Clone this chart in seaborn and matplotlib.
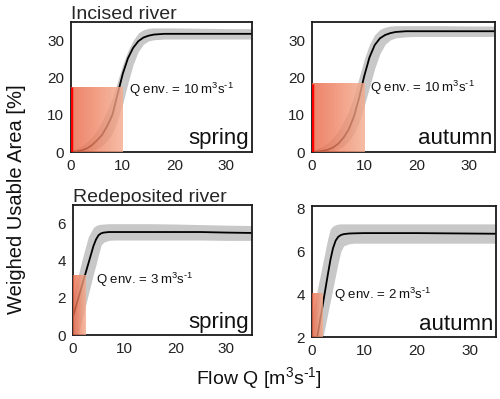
import numpy as np
import matplotlib
matplotlib.use("Agg")
import matplotlib.pyplot as plt
from matplotlib.colors import LinearSegmentedColormap
import seaborn as sns

sns.set_theme(style="white")
plt.rcParams['font.family'] = ['Liberation Sans', 'DejaVu Sans']
plt.rcParams['mathtext.default'] = 'regular'

# incised river, spring
inc_spr_x = [0, 1, 2, 3, 4, 5, 6, 7, 8, 9, 10, 11, 12, 13, 14, 15, 16, 18, 20, 25, 30, 35]
inc_spr_y = [0, 0.1, 0.4, 0.9, 1.8, 3.1, 4.6, 7.0, 10.0, 15.5, 21.0, 25.2, 28.0, 29.8, 30.8, 31.3, 31.6, 31.8, 31.8, 31.8, 31.8, 31.8]
inc_spr_hi = [0.5, 0.9, 1.6, 2.6, 4.0, 5.8, 8.2, 11.2, 14.5, 19.0, 23.5, 27.2, 30.0, 32.0, 32.9, 33.3, 33.4, 33.4, 33.4, 33.3, 33.2, 33.2]
inc_spr_lo = [0, 0, 0, 0.1, 0.4, 0.9, 1.7, 3.0, 5.0, 8.5, 13.0, 18.5, 23.5, 27.0, 29.0, 29.9, 30.2, 30.4, 30.4, 30.4, 30.4, 30.4]

# incised river, autumn
inc_aut_x = inc_spr_x
inc_aut_y = [0, 0.1, 0.3, 0.6, 1.2, 2.2, 3.8, 6.0, 9.5, 14.5, 20.5, 25.5, 28.8, 30.6, 31.5, 32.0, 32.3, 32.5, 32.5, 32.5, 32.5, 32.5]
inc_aut_hi = [0.5, 0.9, 1.5, 2.5, 3.8, 5.6, 8.0, 11.0, 15.0, 20.0, 25.0, 29.0, 31.6, 33.0, 33.6, 33.9, 34.0, 34.0, 34.0, 34.0, 33.9, 33.9]
inc_aut_lo = [0, 0, 0, 0.1, 0.3, 0.8, 1.6, 2.9, 4.9, 8.0, 12.5, 17.5, 22.5, 26.5, 29.0, 30.2, 30.7, 31.0, 31.1, 31.1, 31.1, 31.1]

# redeposited river, spring
red_spr_x = [0, 1, 2, 3, 4, 4.5, 5, 5.5, 6, 7, 8, 10, 15, 20, 25, 30, 35]
red_spr_y = [1.0, 1.95, 2.9, 3.85, 4.8, 5.15, 5.38, 5.48, 5.52, 5.55, 5.55, 5.55, 5.55, 5.55, 5.55, 5.52, 5.5]
red_spr_hi = [2.1, 3.2, 4.3, 5.3, 5.8, 5.9, 5.95, 5.97, 5.98, 6.0, 6.0, 6.0, 6.0, 5.98, 5.95, 5.92, 5.9]
red_spr_lo = [0, 0, 1.1, 2.2, 3.3, 3.8, 4.35, 4.85, 5.0, 5.1, 5.12, 5.12, 5.12, 5.12, 5.12, 5.1, 5.1]

# redeposited river, autumn
red_aut_x = [1, 1.5, 2, 2.5, 3, 3.5, 4, 4.5, 5, 5.5, 6, 7, 8, 10, 15, 20, 25, 30, 35]
red_aut_y = [2.0, 2.72, 3.44, 4.17, 4.9, 5.6, 6.15, 6.5, 6.68, 6.76, 6.8, 6.83, 6.84, 6.85, 6.85, 6.85, 6.84, 6.83, 6.82]
red_aut_band_x = [0, 0.5, 1, 1.5, 2, 2.5, 3, 3.5, 4, 4.5, 5, 5.5, 6, 7, 8, 10, 15, 20, 25, 30, 35]
red_aut_hi = [2.95, 3.55, 4.2, 4.8, 5.4, 6.0, 6.6, 7.05, 7.18, 7.24, 7.27, 7.28, 7.28, 7.28, 7.28, 7.28, 7.28, 7.28, 7.28, 7.28, 7.28]
red_aut_lo = [1.8, 1.8, 1.8, 1.8, 1.9, 2.5, 3.1, 3.7, 4.3, 4.9, 5.5, 6.0, 6.25, 6.35, 6.38, 6.38, 6.38, 6.38, 6.38, 6.38, 6.38]

# environmental flow boxes: width (Q env) and height
q_env = [10, 10, 3, 2]
q_box_w = [10, 10, 2.5, 2.0]
q_box_h = [17.4, 18.4, 3.2, 4.03]
seasons = ['spring', 'autumn', 'spring', 'autumn']
ylims = [(0, 35), (0, 35), (0, 7), (2, 8.1)]
yticks = [[0, 10, 20, 30], [0, 10, 20, 30], [0, 2, 4, 6], [2, 4, 6, 8]]
label_pos = [(11.2, 16.7), (11.1, 17.3), (4.5, 2.95), (4.2, 3.95)]

curves = [
    (inc_spr_x, inc_spr_y, inc_spr_x, inc_spr_lo, inc_spr_hi),
    (inc_aut_x, inc_aut_y, inc_aut_x, inc_aut_lo, inc_aut_hi),
    (red_spr_x, red_spr_y, red_spr_x, red_spr_lo, red_spr_hi),
    (red_aut_x, red_aut_y, red_aut_band_x, red_aut_lo, red_aut_hi),
]

box_cmap = LinearSegmentedColormap.from_list('box', ['#ea6443', '#f4ab8e'])
gradient = np.linspace(0, 1, 64).reshape(1, -1)

fig = plt.figure(figsize=(5, 3.99), dpi=100)
rects = [
    [0.142, 0.619, 0.362, 0.326],
    [0.624, 0.619, 0.366, 0.326],
    [0.146, 0.160, 0.358, 0.326],
    [0.624, 0.155, 0.368, 0.328],
]

for i, r in enumerate(rects):
    ax = fig.add_axes(r)
    cx, cy, bx, blo, bhi = curves[i]
    ylo, yhi = ylims[i]
    ax.fill_between(bx, blo, bhi, color='#c8c8c8', lw=0, zorder=1)
    sns.lineplot(x=cx, y=cy, ax=ax, color='black', lw=1.3, zorder=2)
    ax.imshow(gradient, cmap=box_cmap, aspect='auto', alpha=0.8, zorder=3,
              extent=(0, q_box_w[i], ylo, q_box_h[i]), interpolation='bilinear')
    if i < 2:
        ax.vlines(0, ylo, q_box_h[i], color='red', lw=2.5, zorder=4)
    lx, ly = label_pos[i]
    ax.text(lx, ly, f'Q env. = {q_env[i]}\u2009m$^3$s$^{{\u2010 1}}$', fontsize=9.5,
            ha='left', va='center', zorder=5, color='#111111')
    ax.text(0.985, 0.02, seasons[i], transform=ax.transAxes, fontsize=16,
            ha='right', va='bottom', zorder=5, color='#111111')
    ax.set_xlim(0, 35)
    ax.set_ylim(ylo, yhi)
    ax.set_xticks([0, 10, 20, 30])
    ax.set_yticks(yticks[i])
    ax.tick_params(length=0, labelsize=11, pad=5, colors='#222222')
    ax.set_xlabel('')
    ax.set_ylabel('')
    for s in ax.spines.values():
        s.set_color('#1a1a1a')
        s.set_linewidth(1.3)
        s.set_visible(True)
    if i == 0:
        ax.set_title('Incised river', loc='left', fontsize=14, pad=2)
    if i == 2:
        ax.set_title('Redeposited river', loc='left', fontsize=14, pad=2)

fig.text(0.034, 0.5, 'Weighed Usable Area [%]', rotation=90, fontsize=14.5,
         ha='center', va='center', color='#111111')
fig.text(0.518, 0.053, 'Flow Q [m$^3$s$^{\u2010 1}$]', fontsize=14, ha='center',
         va='center', color='#111111')

fig.savefig('out.png', dpi=100)
